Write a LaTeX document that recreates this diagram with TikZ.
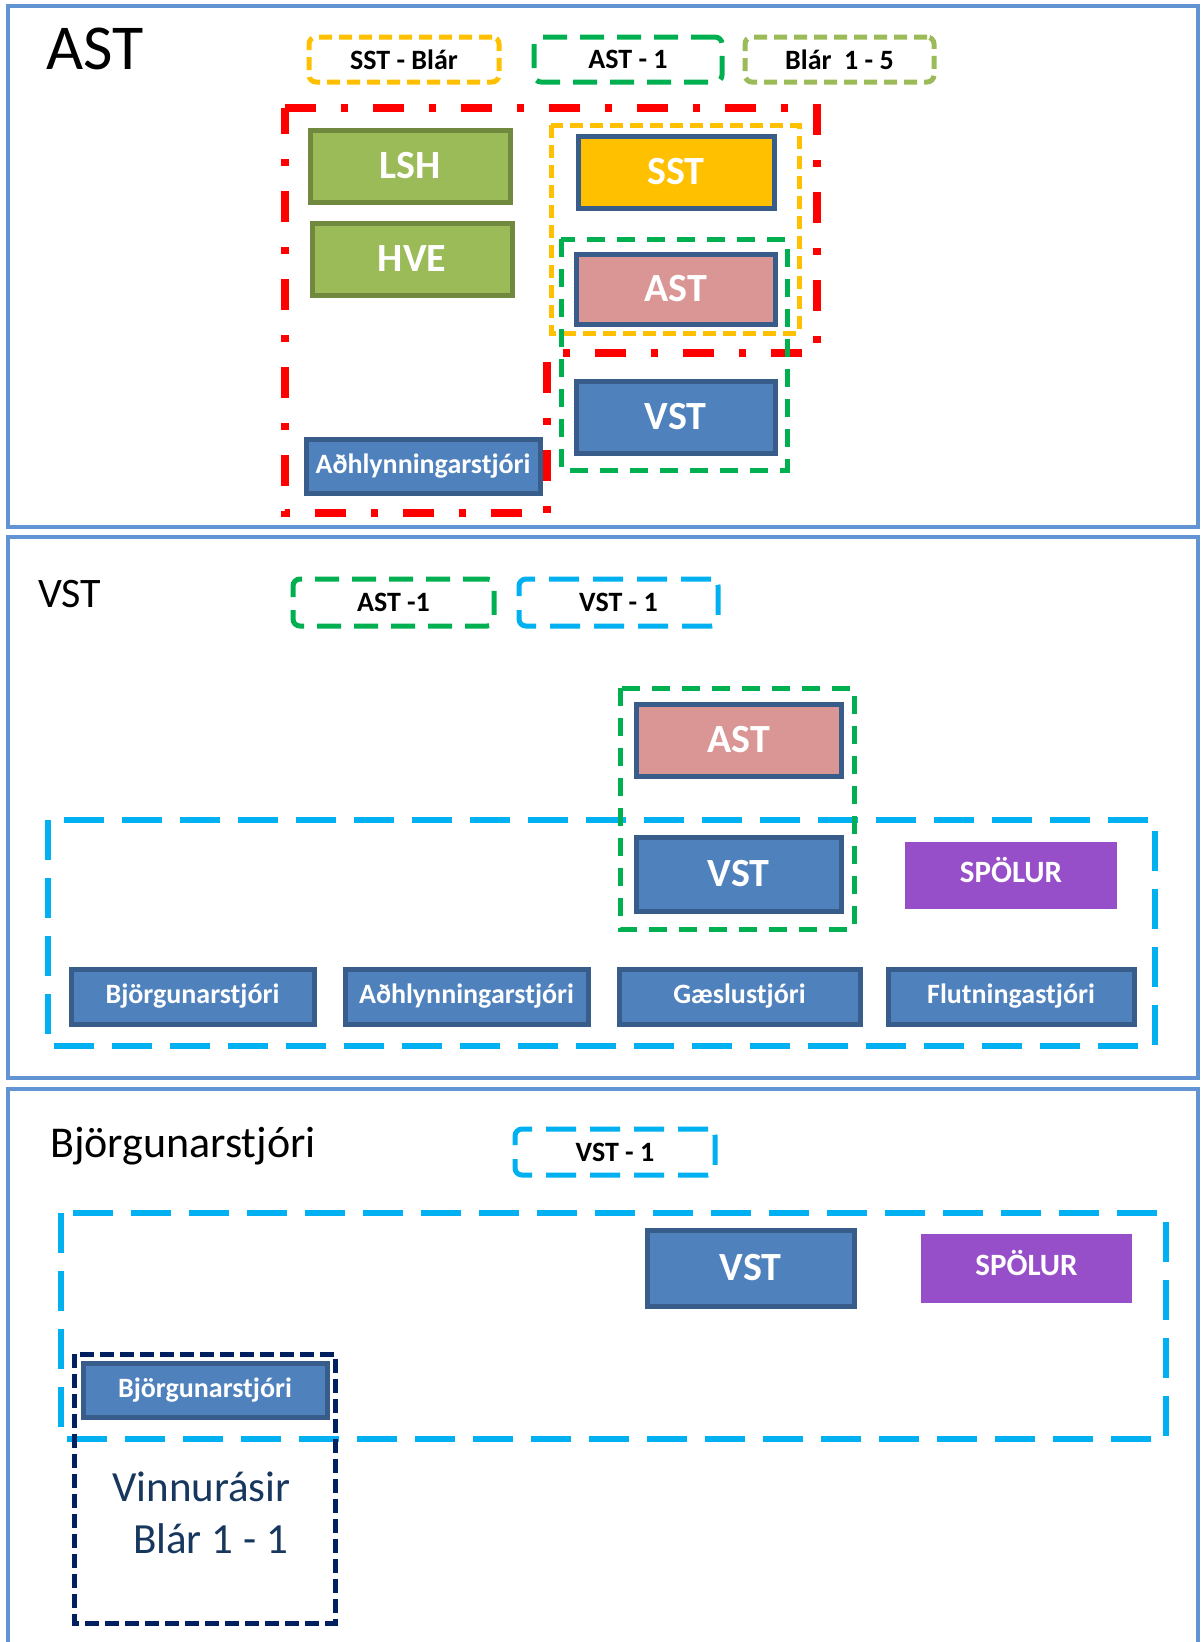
\documentclass[tikz,border=0pt]{standalone}
\usepackage{fontspec}
\setmainfont{Carlito}
\definecolor{frameblue}{RGB}{98,148,212}
\definecolor{unitblue}{RGB}{79,129,189}
\definecolor{unitedge}{RGB}{56,93,138}
\definecolor{sstgold}{RGB}{255,192,0}
\definecolor{astpink}{RGB}{217,150,148}
\definecolor{lshgreen}{RGB}{155,187,89}
\definecolor{lshedge}{RGB}{113,137,63}
\definecolor{spolpurple}{RGB}{150,79,200}
\definecolor{grpred}{RGB}{255,0,0}
\definecolor{grpgreen}{RGB}{0,176,80}
\definecolor{grpcyan}{RGB}{0,176,240}
\definecolor{grpnavy}{RGB}{0,32,96}
\definecolor{txtnavy}{RGB}{23,55,94}

\tikzset{
  frame/.style={draw=frameblue, line width=4pt},
  unit/.style={draw=unitedge, line width=5pt, fill=unitblue, text=white, inner sep=0pt,
    font=\bfseries\fontsize{40}{42}\selectfont},
  smallunit/.style={unit, font=\bfseries\fontsize{28}{30}\selectfont},
  spolur/.style={fill=spolpurple, text=white, inner sep=0pt, text depth=12pt,
    font=\bfseries\fontsize{31}{32}\selectfont},
  tag/.style={rounded corners=7pt, line width=5pt, inner sep=0pt, minimum height=45pt,
    font=\bfseries\fontsize{28}{30}\selectfont},
  title/.style={anchor=base west, inner sep=0pt},
  shortdash/.style={dash pattern=on 13pt off 7pt},
  longdash/.style={dash pattern=on 24pt off 13pt},
  cyandash/.style={draw=grpcyan, line width=6pt, dash pattern=on 40pt off 18pt},
}

\begin{document}
\begin{tikzpicture}[x=1pt, y=-1pt]
  \useasboundingbox (0,0) rectangle (1201,1642);

  % three panels
  \draw[frame] (8,6) rectangle (1198,527);
  \draw[frame] (8,537) rectangle (1198,1078);
  \draw[frame] (8,1089) rectangle (1198,1700);

  % --- AST ---
  \node[title, font=\fontsize{64}{70}\selectfont] (asttitle) at (46,69) {AST};
  \node[tag, draw=sstgold, shortdash, minimum width=190pt] (sstblar) at (404,59.5) {SST - Blár};
  \node[tag, draw=grpgreen, longdash, minimum width=188pt] (astone) at (628,59.5) {AST - 1};
  \node[tag, draw=lshgreen, shortdash, minimum width=189pt] (blarfive) at (839.5,59.5) {Blár\ \ 1 - 5};

  \draw[grpred, line width=8pt, dash pattern=on 31pt off 25pt on 7pt off 25pt]
    (285,108) -- (817,108) -- (817,353) -- (547,353) -- (547,513) -- (285,513) -- cycle;
  \draw[sstgold, line width=5pt, shortdash] (551,125) rectangle (799,333);
  \draw[grpgreen, line width=5pt, dash pattern=on 18pt off 12pt] (561,239) rectangle (787,470);

  \node[unit, fill=lshgreen, draw=lshedge, minimum width=200pt, minimum height=72pt] (lsh) at (410,166) {LSH};
  \node[unit, fill=lshgreen, draw=lshedge, minimum width=200pt, minimum height=72pt] (hve) at (412,259) {HVE};
  \node[unit, fill=sstgold, minimum width=196pt, minimum height=72pt] (sst) at (676,172) {SST};
  \node[unit, fill=astpink, minimum width=199pt, minimum height=70pt] (ast) at (675.5,289) {AST};
  \node[unit, minimum width=199pt, minimum height=72pt] (vst) at (675.5,417) {VST};
  \node[smallunit, minimum width=234pt, minimum height=54pt] (adh) at (423,466) {Aðhlynningarstjóri};

  % --- VST ---
  \node[title, font=\fontsize{42}{46}\selectfont] (vsttitle) at (38,607) {VST};
  \node[tag, draw=grpgreen, longdash, minimum width=201pt, minimum height=47pt] (astonetwo) at (393.5,602.5) {AST -1};
  \node[tag, draw=grpcyan, dash pattern=on 30pt off 14pt, minimum width=199pt, minimum height=47pt] (vstone) at (618.5,602.5) {VST - 1};

  \draw[cyandash] (48,820) rectangle (1155,1046);
  \draw[grpgreen, line width=5pt, dash pattern=on 18pt off 12pt] (620,688) rectangle (854,929);

  \node[unit, fill=astpink, minimum width=205pt, minimum height=72pt] (asttwo) at (738.5,740) {AST};
  \node[unit, minimum width=205pt, minimum height=74pt] (vsttwo) at (738.5,874) {VST};
  \node[spolur, minimum width=212pt, minimum height=67pt] (spolurtwo) at (1011,875.5) {SPÖLUR};

  \node[smallunit, minimum width=243pt, minimum height=55pt] (bjorg) at (192.5,996.5) {Björgunarstjóri};
  \node[smallunit, minimum width=243pt, minimum height=55pt] (adhtwo) at (466.5,996.5) {Aðhlynningarstjóri};
  \node[smallunit, minimum width=241pt, minimum height=55pt] (gaesla) at (739.5,996.5) {Gæslustjóri};
  \node[smallunit, minimum width=246pt, minimum height=55pt] (flutn) at (1011,996.5) {Flutningastjóri};

  % --- Björgunarstjóri ---
  \node[title, font=\fontsize{44}{48}\selectfont] (bjorgtitle) at (50,1157) {Björgunarstjóri};
  \node[tag, draw=grpcyan, dash pattern=on 30pt off 14pt, minimum width=200pt, minimum height=46pt] (vstonethree) at (615,1152) {VST - 1};

  \draw[cyandash] (61,1213) rectangle (1166,1439);
  \draw[grpnavy, line width=5pt, dash pattern=on 14pt off 6pt] (74,1354) rectangle (335,1623);

  \node[unit, minimum width=207pt, minimum height=76pt] (vstthree) at (750.5,1268) {VST};
  \node[spolur, minimum width=211pt, minimum height=69pt] (spolurthree) at (1026.5,1268.5) {SPÖLUR};
  \node[smallunit, minimum width=244pt, minimum height=54pt] (bjorgthree) at (205,1390) {Björgunarstjóri};
  \node[anchor=base, align=center, inner sep=0pt, text=txtnavy,
    font=\fontsize{43}{52}\selectfont] (vinnurasir) at (201.5,1553) {Vinnurásir\\\hspace*{18pt}Blár 1 - 1};
\end{tikzpicture}
\end{document}
